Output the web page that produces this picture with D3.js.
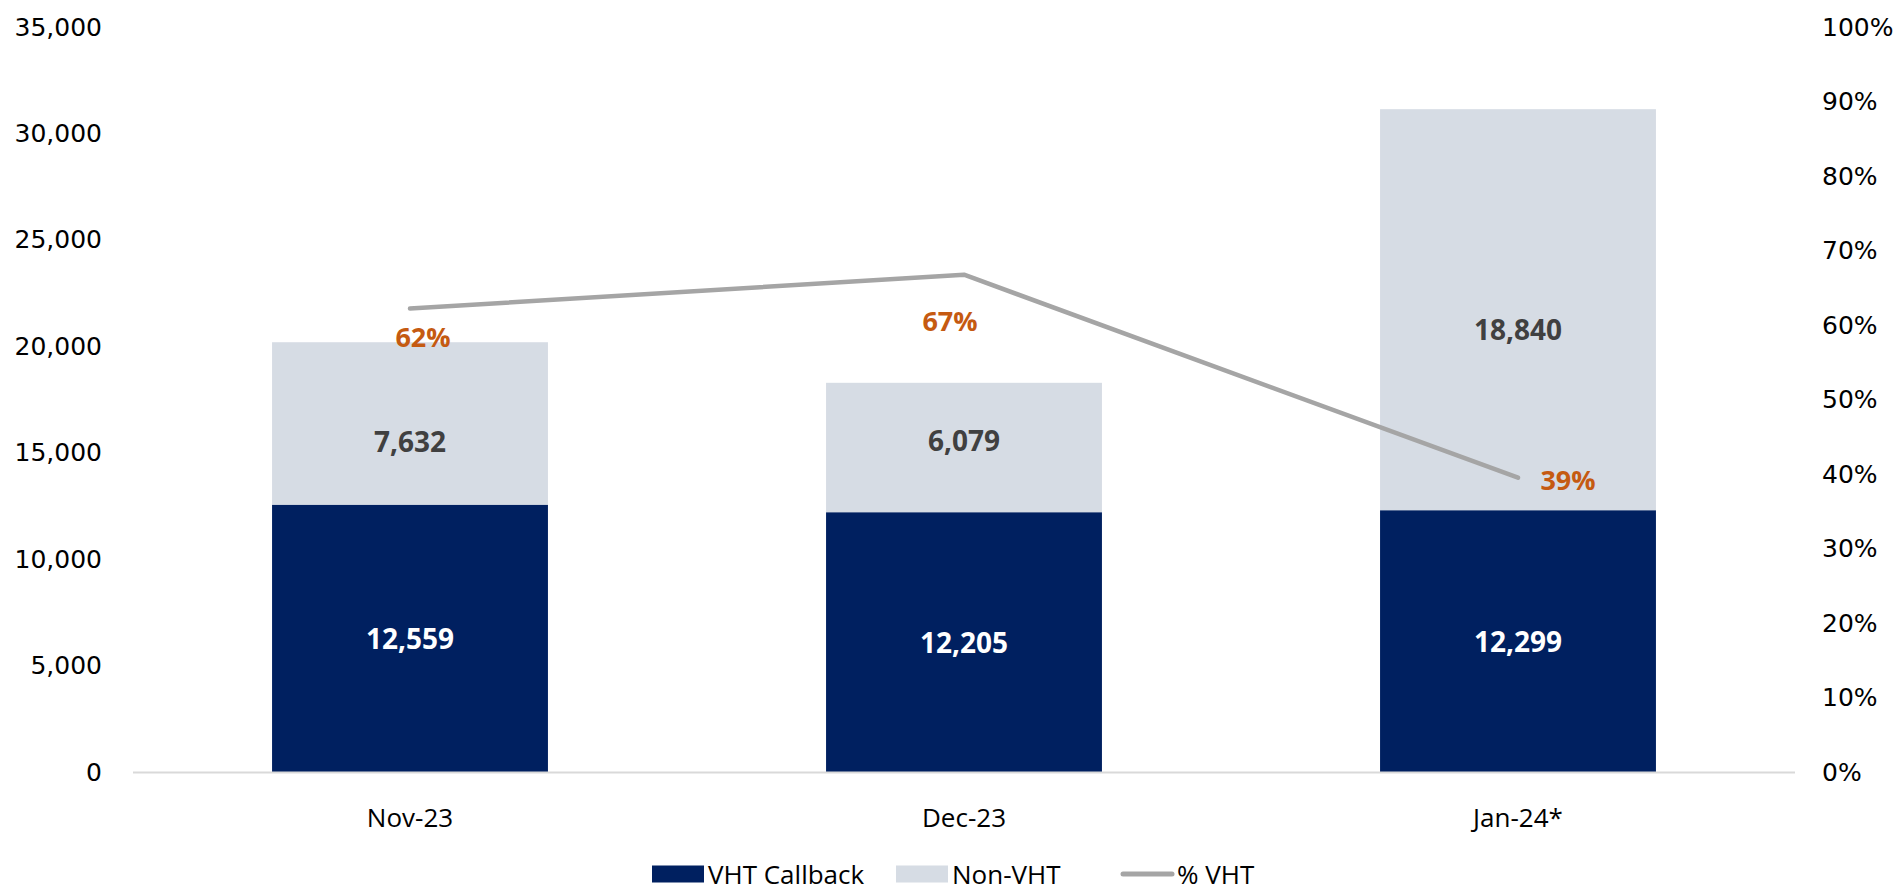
<!DOCTYPE html>
<html>
<head>
<meta charset="utf-8">
<script src="https://cdn.jsdelivr.net/npm/d3@7"></script>
<style>
  body { margin: 0; background: #fff; }
</style>
</head>
<body>
<div id="chart"></div>
<script>
var months = ["Nov-23", "Dec-23", "Jan-24*"];
var vhtCallback = [12559, 12205, 12299];
var nonVht = [7632, 6079, 18840];
var pctVht = [0.622, 0.6675, 0.395];
var pctLabels = ["62%", "67%", "39%"];
var leftTicks = [0, 5000, 10000, 15000, 20000, 25000, 30000, 35000];
var rightTicks = [0, 0.1, 0.2, 0.3, 0.4, 0.5, 0.6, 0.7, 0.8, 0.9, 1];
var legendNames = ["VHT Callback", "Non-VHT", "% VHT"];

// hand placed label nudges, as in the original
var pctLabelNudge = [[13, 28], [-14, 46], [50, 2]];
var nonVhtLabelNudge = [18, -8, 19];

var W = 1898, H = 891;
var plotLeft = 133, plotRight = 1795, plotTop = 27, plotBottom = 772;

var navy = "#002060", pale = "#d6dce4", grey = "#a5a5a5", orange = "#c55a11";

var svg = d3.select("#chart").append("svg")
    .attr("width", W)
    .attr("height", H);

var x = d3.scaleBand()
    .domain(months)
    .range([plotLeft, plotRight])
    .paddingInner(0.502)
    .paddingOuter(0.251);

var y = d3.scaleLinear().domain([0, 35000]).range([plotBottom, plotTop]);
var y2 = d3.scaleLinear().domain([0, 1]).range([plotBottom, plotTop]);

// axes
var yAxis = svg.append("g")
    .attr("transform", "translate(102,0)")
    .call(d3.axisLeft(y).tickValues(leftTicks).tickSize(0).tickPadding(0)
          .tickFormat(d3.format(",")));
yAxis.select(".domain").remove();
yAxis.selectAll("text")
    .style("font-family", "'DejaVu Sans', sans-serif")
    .style("font-size", "25px")
    .attr("fill", "#000");

var y2Axis = svg.append("g")
    .attr("transform", "translate(1822,0)")
    .call(d3.axisRight(y2).tickValues(rightTicks).tickSize(0).tickPadding(0)
          .tickFormat(d3.format(".0%")));
y2Axis.select(".domain").remove();
y2Axis.selectAll("text")
    .style("font-family", "'DejaVu Sans', sans-serif")
    .style("font-size", "25px")
    .attr("fill", "#000");

// bars
svg.selectAll(".bar-vht")
    .data(vhtCallback)
    .enter().append("rect")
    .attr("class", "bar-vht")
    .attr("x", function(d, i) { return x(months[i]); })
    .attr("width", x.bandwidth())
    .attr("y", function(d) { return y(d); })
    .attr("height", function(d) { return y(0) - y(d); })
    .attr("fill", navy);

svg.selectAll(".bar-non")
    .data(nonVht)
    .enter().append("rect")
    .attr("class", "bar-non")
    .attr("x", function(d, i) { return x(months[i]); })
    .attr("width", x.bandwidth())
    .attr("y", function(d, i) { return y(vhtCallback[i] + d); })
    .attr("height", function(d, i) { return y(vhtCallback[i]) - y(vhtCallback[i] + d); })
    .attr("fill", pale);

// x axis line
svg.append("line")
    .attr("x1", plotLeft).attr("x2", plotRight)
    .attr("y1", y(0) + 0.5).attr("y2", y(0) + 0.5)
    .style("stroke", "#d9d9d9")
    .style("stroke-width", "2px");

// category labels
svg.selectAll(".cat")
    .data(months)
    .enter().append("text")
    .attr("class", "cat")
    .attr("x", function(d) { return x(d) + x.bandwidth() / 2; })
    .attr("y", 817)
    .attr("text-anchor", "middle")
    .attr("dominant-baseline", "central")
    .style("font-family", "'Open Sans', sans-serif")
    .style("font-size", "26px")
    .text(function(d) { return d; });

// bar value labels
var fmt = d3.format(",");
svg.selectAll(".lab-vht")
    .data(vhtCallback)
    .enter().append("text")
    .attr("class", "lab-vht")
    .attr("x", function(d, i) { return x(months[i]) + x.bandwidth() / 2; })
    .attr("y", function(d) { return (y(0) + y(d)) / 2; })
    .attr("text-anchor", "middle")
    .attr("dominant-baseline", "central")
    .style("font-family", "'Open Sans', sans-serif")
    .style("font-weight", "bold")
    .style("font-size", "28px")
    .attr("fill", "#fff")
    .text(function(d) { return fmt(d); });

svg.selectAll(".lab-non")
    .data(nonVht)
    .enter().append("text")
    .attr("class", "lab-non")
    .attr("x", function(d, i) { return x(months[i]) + x.bandwidth() / 2; })
    .attr("y", function(d, i) {
        return (y(vhtCallback[i]) + y(vhtCallback[i] + d)) / 2 + nonVhtLabelNudge[i];
    })
    .attr("text-anchor", "middle")
    .attr("dominant-baseline", "central")
    .style("font-family", "'Open Sans', sans-serif")
    .style("font-weight", "bold")
    .style("font-size", "28px")
    .attr("fill", "#404040")
    .text(function(d) { return fmt(d); });

// % VHT line
var line = d3.line()
    .x(function(d, i) { return x(months[i]) + x.bandwidth() / 2; })
    .y(function(d) { return y2(d); });

svg.append("path")
    .datum(pctVht)
    .attr("d", line)
    .attr("fill", "none")
    .style("stroke", grey)
    .style("stroke-width", "4.5px")
    .style("stroke-linecap", "round")
    .style("stroke-linejoin", "round");

svg.selectAll(".lab-pct")
    .data(pctVht)
    .enter().append("text")
    .attr("class", "lab-pct")
    .attr("x", function(d, i) { return x(months[i]) + x.bandwidth() / 2 + pctLabelNudge[i][0]; })
    .attr("y", function(d, i) { return y2(d) + pctLabelNudge[i][1]; })
    .attr("text-anchor", "middle")
    .attr("dominant-baseline", "central")
    .style("font-family", "'Open Sans', sans-serif")
    .style("font-weight", "bold")
    .style("font-size", "27px")
    .attr("fill", orange)
    .text(function(d, i) { return pctLabels[i]; });

// legend
var legendX = [652, 896, 1121];
var legendY = 874;
var legend = svg.append("g");

legend.append("rect")
    .attr("x", legendX[0]).attr("y", legendY - 8.5)
    .attr("width", 52).attr("height", 17)
    .attr("fill", navy);
legend.append("rect")
    .attr("x", legendX[1]).attr("y", legendY - 8.5)
    .attr("width", 52).attr("height", 17)
    .attr("fill", pale);
legend.append("line")
    .attr("x1", legendX[2] + 2).attr("x2", legendX[2] + 51)
    .attr("y1", legendY).attr("y2", legendY)
    .style("stroke", grey)
    .style("stroke-width", "5px")
    .style("stroke-linecap", "round");

legend.selectAll("text")
    .data(legendNames)
    .enter().append("text")
    .attr("x", function(d, i) { return legendX[i] + 56; })
    .attr("y", legendY)
    .attr("dominant-baseline", "central")
    .style("font-family", "'Open Sans', sans-serif")
    .style("font-size", "26px")
    .text(function(d) { return d; });
</script>
</body>
</html>
